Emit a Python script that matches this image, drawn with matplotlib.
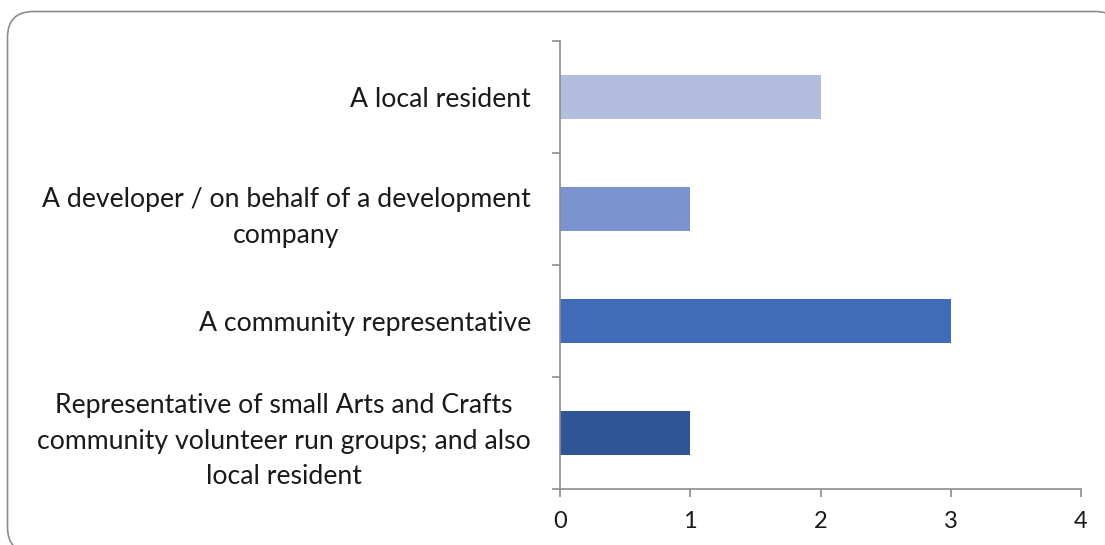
import matplotlib.pyplot as plt
from matplotlib.patches import FancyBboxPatch

plt.rcParams['font.family'] = ['Lato', 'DejaVu Sans']

categories = [
    "Representative of small Arts and Crafts\ncommunity volunteer run groups; and also\nlocal resident",
    "A community representative",
    "A developer / on behalf of a development\ncompany",
    "A local resident",
]
counts = [1, 3, 1, 2]
colors = ['#2F5597', '#406BB7', '#7B93CF', '#B3BEDE']
xticks = [0, 1, 2, 3, 4]

W, H = 1105, 545
fig = plt.figure(figsize=(W / 100, H / 100), dpi=100)

# background axes in pixel units, just for the rounded border
bg = fig.add_axes([0, 0, 1, 1], zorder=-1)
bg.set_xlim(0, W)
bg.set_ylim(H, 0)
bg.axis('off')
frame = FancyBboxPatch((7.5, 11.5), 1113.5, 541.5,
                       boxstyle="round,pad=0,rounding_size=26",
                       facecolor='white', edgecolor='#8c8c8c', linewidth=1.2)
bg.add_patch(frame)

ax = fig.add_axes([560 / W, (H - 489) / H, (1081 - 560) / W, (489 - 41) / H])
ax.patch.set_alpha(0)
y = range(len(categories))
ax.barh(y, counts, height=0.4, color=colors)

ax.set_xlim(0, 4)
ax.set_ylim(-0.5, len(categories) - 0.5)
ax.set_xticks(xticks)
ax.set_xticklabels([str(t) for t in xticks])
ax.set_yticks([i - 0.5 for i in range(len(categories) + 1)])
ax.set_yticklabels([])
ax.set_yticks(list(y), minor=True)
ax.set_yticklabels(categories, minor=True, ha='right', multialignment='center',
                   linespacing=1.55)
ax.tick_params(axis='y', which='minor', length=0, pad=21, labelsize=19.2,
               labelcolor='#1a1a1a')
ax.tick_params(axis='y', which='major', length=6, color='#8c8c8c', width=1.2)
ax.tick_params(axis='x', length=6, color='#8c8c8c', width=1.2, pad=10,
               labelsize=17, labelcolor='#1a1a1a')

for s in ['top', 'right']:
    ax.spines[s].set_visible(False)
for s in ['left', 'bottom']:
    ax.spines[s].set_color('#8c8c8c')
    ax.spines[s].set_linewidth(1.2)

fig.savefig('out.png', dpi=100)
